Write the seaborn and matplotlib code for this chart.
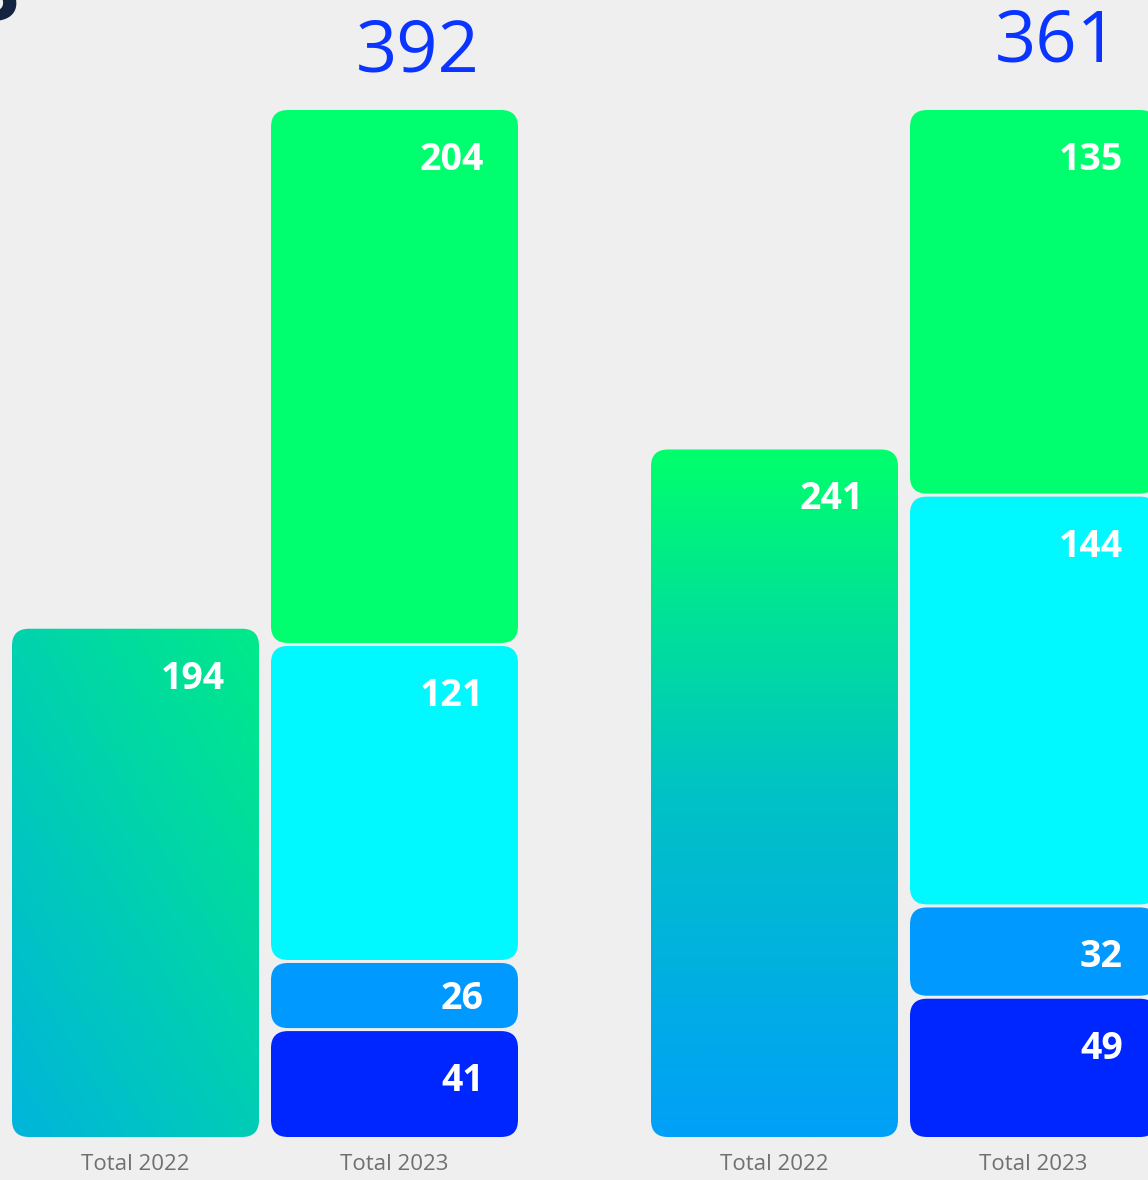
import numpy as np
import pandas as pd
import matplotlib
matplotlib.use("Agg")
import matplotlib.pyplot as plt
import seaborn as sns
from matplotlib.patches import FancyBboxPatch
from matplotlib.colors import LinearSegmentedColormap

# ---------------- data ----------------
categories = ["Total 2022", "Total 2023"]
left_2022 = 194
left_2023 = [41, 26, 121, 204]      # bottom -> top
left_total_label = "392"
right_2022 = 241
right_2023 = [49, 32, 144, 135]     # bottom -> top
right_total_label = "361"

# ---------------- style ----------------
BG = "#efefef"
seg_colors = ["#0026ff", "#0099ff", "#00f8ff", "#00ff6e"]
total_color = "#0a34ff"
W_FIG, H_FIG = 1148, 1180
BASE_PX = 1137          # baseline y (from top)
TOP_PX = 110            # top of 2023 bar (from top)
SPACING_PX = 259
BAR_W = 247 / 259
RADIUS_PX = 17
GAP_PX = 3

sns.set_theme(style="white")
plt.rcParams["font.family"] = ["Open Sans", "DejaVu Sans"]

fig = plt.figure(figsize=(W_FIG / 100, H_FIG / 100), dpi=100)
fig.patch.set_facecolor(BG)

cmap_left = LinearSegmentedColormap.from_list("l", ["#00b5db", "#00ea88"])
cmap_right = LinearSegmentedColormap.from_list("r", [(0, "#00a0f8"), (0.5, "#00c2c6"), (1, "#00ff6c")])


def draw_group(ax_px, center0_px, v2022, segs, total_label, grad, total_dy):
    left_px, right_px = ax_px
    ax = fig.add_axes([left_px / W_FIG, (H_FIG - BASE_PX) / H_FIG,
                       (right_px - left_px) / W_FIG, BASE_PX / H_FIG])
    ax.set_facecolor(BG)
    total = sum(segs)
    ppu = (BASE_PX - TOP_PX) / total
    ymax = BASE_PX / ppu

    # --- seaborn bars ---
    rects = []
    n0 = len(ax.patches)
    sns.barplot(x=[categories[0]], y=[v2022], order=categories, color="#00c8c0",
                width=BAR_W, errorbar=None, ax=ax)
    rects.append(("g2022", ax.patches[n0:]))
    cums = np.cumsum(segs)
    for i in reversed(range(len(segs))):
        n0 = len(ax.patches)
        sns.barplot(x=[categories[1]], y=[cums[i]], order=categories, color=seg_colors[i],
                    width=BAR_W, errorbar=None, ax=ax)
        rects.append((i, ax.patches[n0:]))

    geo = []
    for key, plist in rects:
        for p in plist:
            if p.get_height() > 0:
                geo.append((key, p.get_x(), p.get_width(), p.get_height()))
            p.remove()

    xu_per_px = 1 / SPACING_PX
    yu_per_px = 1 / ppu
    aspect = yu_per_px / xu_per_px
    r = RADIUS_PX * xu_per_px
    gap = GAP_PX * yu_per_px

    for key, x0, w, h in geo:
        if key == "g2022":
            y0, y1 = 0, h
        else:
            y0 = cums[key - 1] if key > 0 else 0
            y1 = h
            if key > 0:
                y0 += gap / 2
            if key < len(segs) - 1:
                y1 -= gap / 2
        patch = FancyBboxPatch((x0, y0), w, y1 - y0,
                               boxstyle=f"round,pad=0,rounding_size={r}",
                               mutation_aspect=aspect, linewidth=0,
                               facecolor=("none" if key == "g2022" else seg_colors[key]),
                               zorder=2, clip_on=False)
        ax.add_patch(patch)
        if key == "g2022":
            xs = np.linspace(0, 1, 200)
            ys = np.linspace(0, 1, 400)
            X, Y = np.meshgrid(xs, ys)
            if grad == "diag":
                T = 0.45 * X + 0.55 * Y
                cm = cmap_left
            else:
                T = Y
                cm = cmap_right
            im = ax.imshow(T, cmap=cm, vmin=0, vmax=1, origin="lower",
                           extent=(x0, x0 + w, y0, y1), aspect="auto", zorder=1,
                           interpolation="bilinear")
            im.set_clip_path(patch)
            val = v2022
        else:
            val = segs[key]
        seg_px = (y1 - y0) * ppu
        dy = -min(60, 0.7 * seg_px)
        ax.annotate(str(val), xy=(x0 + w, y1), xytext=(-34, dy),
                    textcoords="offset pixels", ha="right", va="baseline",
                    color="white", fontsize=27, fontweight="bold", zorder=5,
                    annotation_clip=False)
        if key == len(segs) - 1:
            ax.annotate(total_label, xy=(x0 + w, y1), xytext=(-38, total_dy),
                        textcoords="offset pixels", ha="right", va="baseline",
                        color=total_color, fontsize=52, fontweight="medium", zorder=5,
                        annotation_clip=False)

    ax.set_xlim((left_px - center0_px) / SPACING_PX, (right_px - center0_px) / SPACING_PX)
    ax.set_ylim(0, ymax)
    ax.set_xticks([0, 1])
    ax.set_xticklabels(categories, fontsize=16, color="#707070")
    ax.tick_params(axis="x", length=0, pad=12)
    ax.set_yticks([])
    ax.set_xlabel("")
    ax.set_ylabel("")
    for s in ax.spines.values():
        s.set_visible(False)
    return ax


draw_group((0, 560), 135.5, left_2022, left_2023, left_total_label, "diag", 38)
draw_group((600, 1148), 774.5, right_2022, right_2023, right_total_label, "vert", 48)

# cropped heading glyph at top-left
fig.text(19 / W_FIG, 1 - 20 / H_FIG, "3", ha="right", va="baseline",
         fontsize=60, fontweight="bold", color="#14233f")

fig.savefig("out.png", dpi=100, facecolor=BG)
